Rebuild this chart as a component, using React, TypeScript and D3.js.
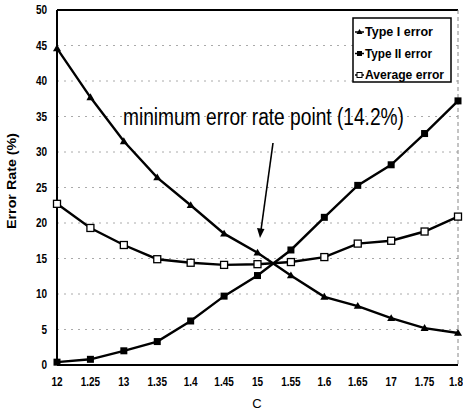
import React from "react";
import * as d3 from "d3";

const cValues = [1.2, 1.25, 1.3, 1.35, 1.4, 1.45, 1.5, 1.55, 1.6, 1.65, 1.7, 1.75, 1.8];
const cLabels = ["12", "1.25", "13", "1.35", "1.4", "1.45", "15", "1.55", "1.6", "1.65", "17", "1.75", "1.8"];
const typeI = [44.6, 37.7, 31.5, 26.4, 22.5, 18.5, 15.8, 12.6, 9.6, 8.3, 6.6, 5.2, 4.5];
const typeII = [0.4, 0.8, 2.0, 3.3, 6.2, 9.7, 12.6, 16.2, 20.8, 25.3, 28.2, 32.6, 37.2];
const average = [22.7, 19.3, 16.9, 14.9, 14.4, 14.1, 14.2, 14.5, 15.2, 17.1, 17.5, 18.8, 20.9];
const yTicks = [0, 5, 10, 15, 20, 25, 30, 35, 40, 45, 50];
const seriesNames = ["Type I error", "Type II error", "Average error"];

const FONT = "'Liberation Sans', Arial, sans-serif";

export default function App() {
  const W = 463, H = 413;
  const x = d3.scaleLinear().domain([1.2, 1.8]).range([57, 458]);
  const y = d3.scaleLinear().domain([0, 50]).range([365, 10]);
  const line = d3.line<number>().x((_, i) => x(cValues[i])).y((d) => y(d));

  const series = [
    { name: seriesNames[0], data: typeI, marker: "tri" },
    { name: seriesNames[1], data: typeII, marker: "sq" },
    { name: seriesNames[2], data: average, marker: "open" },
  ];

  const marker = (kind: string, cx: number, cy: number, key: string) => {
    if (kind === "tri") {
      const s = 4;
      return <path key={key} d={`M${cx},${cy - s}L${cx + s},${cy + s * 0.7}L${cx - s},${cy + s * 0.7}Z`} fill="#000" />;
    }
    if (kind === "sq") {
      return <rect key={key} x={cx - 3.5} y={cy - 3.5} width={7} height={7} fill="#000" />;
    }
    return <rect key={key} x={cx - 3.5} y={cy - 3.5} width={7} height={7} fill="#fff" stroke="#000" strokeWidth={1.3} />;
  };

  return (
    <svg width={W} height={H} style={{ position: "absolute", left: 0, top: 0, background: "#fff" }}>
      <rect x={0} y={0} width={W} height={H} fill="#fff" />
      {/* gridlines */}
      {yTicks.filter((t) => t > 0 && t < 50).map((t) => (
        <line key={"g" + t} x1={x(1.2)} x2={x(1.8)} y1={y(t)} y2={y(t)} stroke="#aaa" strokeWidth={1} strokeDasharray="2,5" />
      ))}
      {/* frame */}
      <line x1={x(1.2)} x2={x(1.8)} y1={y(50)} y2={y(50)} stroke="#000" strokeWidth={2} />
      <line x1={x(1.8)} x2={x(1.8)} y1={y(50)} y2={y(0)} stroke="#888" strokeWidth={1} strokeDasharray="4,3" />
      <line x1={x(1.2)} x2={x(1.2)} y1={y(50)} y2={y(0)} stroke="#000" strokeWidth={2} />
      <line x1={x(1.2)} x2={x(1.8)} y1={y(0)} y2={y(0)} stroke="#000" strokeWidth={2} />
      {/* y tick labels */}
      {yTicks.map((t) => (
        <text key={"yt" + t} transform={`translate(47,${y(t) + 4}) scale(0.8,1)`} textAnchor="end" fontFamily={FONT} fontWeight="bold" fontSize={12.5}>
          {t}
        </text>
      ))}
      {/* x tick labels */}
      {cValues.map((c, i) => (
        <text key={"xt" + i} transform={`translate(${i === cValues.length - 1 ? x(c) - 2 : x(c)},386) scale(0.8,1)`} textAnchor="middle" fontFamily={FONT} fontWeight="bold" fontSize={12.5}>
          {cLabels[i]}
        </text>
      ))}
      {/* axis titles */}
      <text x={257} y={408} textAnchor="middle" fontFamily={FONT} fontSize={13}>C</text>
      <text transform="translate(16,181) rotate(-90)" textAnchor="middle" fontFamily={FONT} fontWeight="bold" fontSize={12} textLength={96} lengthAdjust="spacingAndGlyphs">
        Error Rate (%)
      </text>
      {/* series */}
      {series.map((s) => (
        <g key={s.name}>
          <path d={line(s.data) || ""} fill="none" stroke="#000" strokeWidth={2.4} />
          {s.data.map((v, i) => marker(s.marker, x(cValues[i]), y(v), s.name + i))}
        </g>
      ))}
      {/* annotation */}
      <text x={123} y={125} fontFamily={FONT} fontSize={23} textLength={281} lengthAdjust="spacingAndGlyphs">
        minimum error rate point (14.2%)
      </text>
      <line x1={273} y1={143} x2={261} y2={230} stroke="#000" strokeWidth={1.6} />
      <path d="M260,238 L257,228 L264.5,229 Z" fill="#000" />
      {/* legend */}
      <rect x={353} y={18} width={98} height={64} fill="#fff" stroke="#000" strokeWidth={1.5} />
      {series.map((s, i) => {
        const ly = 32 + i * 21.5;
        const lens = [68, 67, 79];
        return (
          <g key={"lg" + i}>
            <line x1={355} x2={364} y1={ly} y2={ly} stroke="#000" strokeWidth={1.5} />
            {s.marker === "tri" ? (
              <path d={`M359.5,${ly - 3}L362.5,${ly + 2}L356.5,${ly + 2}Z`} fill="#000" />
            ) : s.marker === "sq" ? (
              <rect x={357} y={ly - 2.5} width={5} height={5} fill="#000" />
            ) : (
              <rect x={357} y={ly - 2.5} width={5} height={5} fill="#fff" stroke="#000" strokeWidth={1} />
            )}
            <text x={365} y={ly + 4} fontFamily={FONT} fontWeight="bold" fontSize={12} textLength={lens[i]} lengthAdjust="spacingAndGlyphs">
              {s.name}
            </text>
          </g>
        );
      })}
    </svg>
  );
}
